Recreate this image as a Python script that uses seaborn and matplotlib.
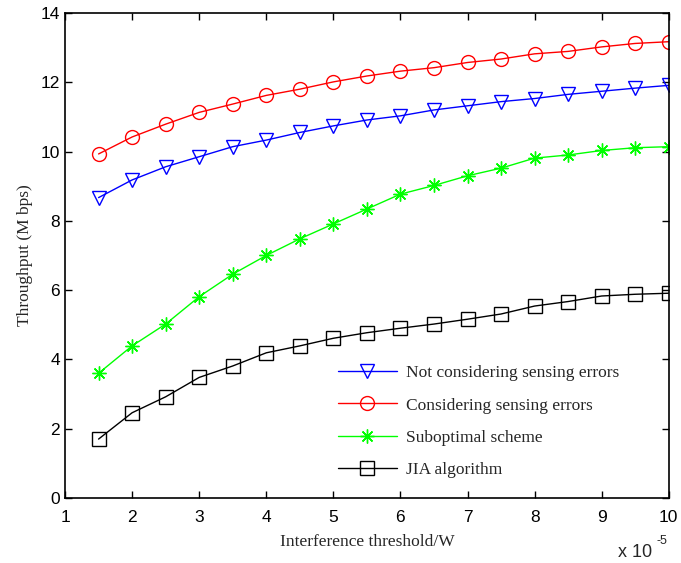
import numpy as np
import pandas as pd
import matplotlib
matplotlib.use('Agg')
import matplotlib.pyplot as plt
import seaborn as sns

# data (x in units of 1e-5 W)
threshold = [1.5, 2, 2.5, 3, 3.5, 4, 4.5, 5, 5.5, 6, 6.5, 7, 7.5, 8, 8.5, 9, 9.5, 10]
not_considering = [8.67, 9.18, 9.56, 9.85, 10.14, 10.33, 10.55, 10.74, 10.91,
                   11.03, 11.2, 11.32, 11.44, 11.53, 11.65, 11.74, 11.83, 11.91]
considering = [9.93, 10.42, 10.79, 11.13, 11.37, 11.62, 11.80, 12.01, 12.18,
               12.32, 12.42, 12.57, 12.67, 12.82, 12.89, 13.02, 13.12, 13.17]
suboptimal = [3.6, 4.39, 5.02, 5.81, 6.46, 7.0, 7.48, 7.91, 8.34,
              8.77, 9.02, 9.3, 9.52, 9.81, 9.9, 10.03, 10.11, 10.14]
jia = [1.70, 2.46, 2.92, 3.48, 3.81, 4.19, 4.39, 4.61, 4.77,
       4.90, 5.02, 5.16, 5.31, 5.54, 5.67, 5.83, 5.88, 5.91]

series = [
    ('Not considering sensing errors', not_considering, 'blue', 'v'),
    ('Considering sensing errors', considering, 'red', 'o'),
    ('Suboptimal scheme', suboptimal, '#00ff00', (8, 2, 0)),
    ('JIA algorithm', jia, 'black', 's'),
]

sns.set_style('ticks')
plt.rcParams['font.family'] = ['Liberation Sans', 'DejaVu Sans']

fig = plt.figure(figsize=(6.81, 5.63), dpi=100)
ax = fig.add_axes([0.0955, 0.1155, 0.8865, 0.8615])

for name, vals, col, mk in series:
    df = pd.DataFrame({'x': threshold, 'y': vals})
    sns.lineplot(data=df, x='x', y='y', ax=ax, color=col, marker=mk,
                 markersize=10, markerfacecolor='none', markeredgecolor=col,
                 markeredgewidth=1.0, linewidth=1.0, label=name)

ax.set_xlim(1, 10)
ax.set_ylim(0, 14)
ax.set_xticks(range(1, 11))
ax.set_yticks(range(0, 15, 2))
ax.tick_params(direction='in', top=True, right=True, length=5, width=1,
               labelsize=12.5, colors='black')
ax.tick_params(axis='x', pad=9)
for s in ax.spines.values():
    s.set_linewidth(1.2)
    s.set_color('black')

serif = {'family': 'Liberation Serif', 'size': 12.5}
ax.set_xlabel('Interference threshold/W', fontdict=serif, labelpad=6)
ax.set_ylabel('Throughput (M bps)', fontdict=serif, labelpad=5.5)

fig.text(0.907, 0.004, 'x 10', fontsize=13, ha='left', va='bottom')
fig.text(0.964, 0.029, '-5', fontsize=9, ha='left', va='bottom')

leg = ax.legend(loc='upper left', bbox_to_anchor=(0.44, 0.288), frameon=False,
                prop={'family': 'Liberation Serif', 'size': 12.5},
                handlelength=3.4, handletextpad=0.55, labelspacing=0.92,
                borderaxespad=0)

fig.savefig('out.png', dpi=100)
